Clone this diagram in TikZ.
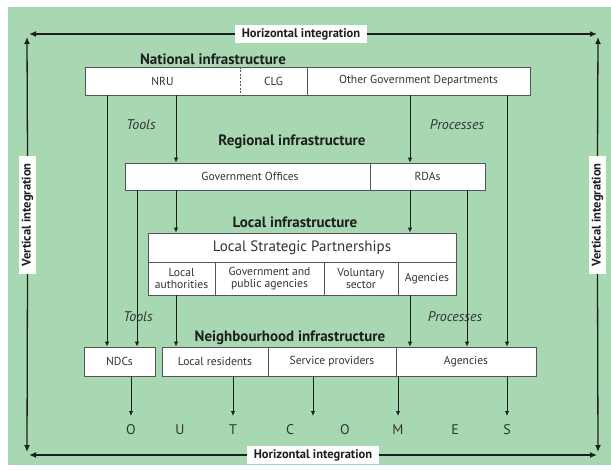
\documentclass[tikz,border=0pt]{standalone}
\usepackage{fontspec}
\setmainfont{PT Sans}
\usetikzlibrary{arrows.meta,calc}
\definecolor{bg}{HTML}{A8D8B2}
\definecolor{ink}{HTML}{1E1E1E}
\definecolor{txt}{HTML}{333333}
\definecolor{edge}{HTML}{555555}
\begin{document}
\begin{tikzpicture}[x=1pt,y=-1pt,
 arr/.style={-{Latex[length=5pt,width=4.5pt]},line width=0.9pt,draw=ink},
 farr/.style={-{Latex[length=7pt,width=6pt]},line width=1.3pt,draw=ink},
 box/.style={draw=edge,fill=white,line width=0.8pt,inner sep=0pt},
 lbl/.style={font=\fontsize{11.6}{12.5}\selectfont,text=txt,inner sep=1pt,align=center},
 head/.style={font=\bfseries\fontsize{15}{17}\selectfont,text=ink,inner sep=1pt},
 ital/.style={font=\itshape\fontsize{14}{16}\selectfont,text=txt,inner sep=1pt},
 letter/.style={font=\fontsize{14}{16}\selectfont,text=txt,inner sep=1pt},
 integ/.style={fill=white,font=\bfseries\fontsize{12.5}{13}\selectfont,inner xsep=7pt,inner ysep=3pt,text=ink},
 divl/.style={draw=edge,line width=0.8pt},
]
\useasboundingbox (0,0) rectangle (611,469);
\fill[bg] (8,7) rectangle (611,465);

% columns
\coordinate (c1) at (107,0);
\coordinate (c2) at (137,0);
\coordinate (c3) at (176,0);
\coordinate (c4) at (410,0);
\coordinate (c5) at (467,0);
\coordinate (c6) at (507,0);
\coordinate (d1) at (240,0);
\coordinate (d2) at (307,0);
\coordinate (d3) at (370,0);
\coordinate (d4) at (215,0);
\coordinate (d5) at (324,0);
\coordinate (d6) at (398,0);
\coordinate (d7) at (268,0);
\coordinate (d8) at (396,0);
\coordinate (r1) at (0,262);
% outcome arrow ends
\coordinate (e1) at (131,416);
\coordinate (e2) at (233,416);
\coordinate (e3) at (313,416);
\coordinate (e4) at (398,416);
\coordinate (e5) at (507,416);

% integration frame
\node[integ] (htop) at (301,34) {Horizontal integration};
\node[integ] (hbot) at (313,455) {Horizontal integration};
\node[integ,rotate=90] (vleft) at (27.5,215) {Vertical integration};
\node[integ,rotate=90] (vright) at (597.5,215) {Vertical integration};
\coordinate (tlh) at (29,34);
\coordinate (trh) at (597,34);
\coordinate (blh) at (29,455);
\coordinate (brh) at (597,455);
\coordinate (tlv) at (27,37);
\coordinate (blv) at (27,452);
\coordinate (trv) at (598,37);
\coordinate (brv) at (598,452);
\draw[farr] (htop.west) -- (tlh);
\draw[farr] (htop.east) -- (trh);
\draw[farr] (hbot.west) -- (blh);
\draw[farr] (hbot.east) -- (brh);
\draw[farr] (vleft.east) -- (tlv);
\draw[farr] (vleft.west) -- (blv);
\draw[farr] (vright.east) -- (trv);
\draw[farr] (vright.west) -- (brv);

% National
\node[head] (nath) at (213,59) {National infrastructure};
\node[box,minimum width=445pt,minimum height=28pt] (nat) at (307.5,81) {};
\draw[divl,dashed,dash pattern=on 2pt off 1.5pt] (nat.north -| d1) -- (nat.south -| d1);
\draw[divl] (nat.north -| d2) -- (nat.south -| d2);
\node[lbl] (nru) at (162.5,81) {NRU};
\node[lbl] (clg) at (273.5,81) {CLG};
\node[lbl] (ogd) at (418.5,81) {Other Government Departments};

\node[ital] (tools1) at (141,125) {Tools};
\node[ital] (proc1) at (457,125) {Processes};

% Regional
\node[head] (regh) at (292,142) {Regional infrastructure};
\node[box,minimum width=360pt,minimum height=27pt] (reg) at (305,176.5) {};
\draw[divl] (reg.north -| d3) -- (reg.south -| d3);
\node[lbl] (go) at (250,176.5) {Government Offices};
\node[lbl] (rda) at (427.5,176.5) {RDAs};

% Local
\node[head] (loch) at (295,222) {Local infrastructure};
\node[box,minimum width=308pt,minimum height=62pt] (lsp) at (302,264) {};
\draw[divl] (lsp.west |- r1) -- (lsp.east |- r1);
\draw[divl] (r1 -| d4) -- (lsp.south -| d4);
\draw[divl] (r1 -| d5) -- (lsp.south -| d5);
\draw[divl] (r1 -| d6) -- (lsp.south -| d6);
\node[lbl,font=\fontsize{15}{17}\selectfont] (lspt) at (302,247.5) {Local Strategic Partnerships};
\node[lbl] (la) at (181.5,278.5) {Local\\authorities};
\node[lbl] (gpa) at (269.5,278.5) {Government and\\public agencies};
\node[lbl] (vs) at (361,278.5) {Voluntary\\sector};
\node[lbl] (lag) at (427,278.5) {Agencies};

\node[ital] (tools2) at (138,317) {Tools};
\node[ital] (proc2) at (455,317) {Processes};

% Neighbourhood
\node[head] (neih) at (290,338) {Neighbourhood infrastructure};
\node[box,minimum width=71pt,minimum height=29pt] (ndc) at (119.5,361.5) {};
\node[lbl] (ndct) at (119.5,361.5) {NDCs};
\node[box,minimum width=374pt,minimum height=29pt] (nei) at (349,361.5) {};
\draw[divl] (nei.north -| d7) -- (nei.south -| d7);
\draw[divl] (nei.north -| d8) -- (nei.south -| d8);
\node[lbl] (lr) at (215,361.5) {Local residents};
\node[lbl] (sp) at (332,361.5) {Service providers};
\node[lbl] (nag) at (466,361.5) {Agencies};

% arrows
\draw[arr] (nat.south -| c1) -- (ndc.north -| c1);
\draw[arr] (nat.south -| c3) -- (reg.north -| c3);
\draw[arr] (nat.south -| c4) -- (reg.north -| c4);
\draw[arr] (nat.south -| c6) -- (nei.north -| c6);
\draw[arr] (reg.south -| c2) -- (ndc.north -| c2);
\draw[arr] (reg.south -| c3) -- (lsp.north -| c3);
\draw[arr] (reg.south -| c4) -- (lsp.north -| c4);
\draw[arr] (reg.south -| c5) -- (nei.north -| c5);
\draw[arr] (lsp.south -| c3) -- (nei.north -| c3);
\draw[arr] (lsp.south -| c4) -- (nei.north -| c4);

% outcomes
\node[letter] (L1) at (131,430) {O};
\node[letter] (L2) at (180,430) {U};
\node[letter] (L3) at (233,430) {T};
\node[letter] (L4) at (290,430) {C};
\node[letter] (L5) at (345,430) {O};
\node[letter] (L6) at (398,430) {M};
\node[letter] (L7) at (455,430) {E};
\node[letter] (L8) at (507,430) {S};
\draw[arr] (ndc.south -| e1) -- (e1);
\draw[arr] (nei.south -| e2) -- (e2);
\draw[arr] (nei.south -| e3) -- (e3);
\draw[arr] (nei.south -| e4) -- (e4);
\draw[arr] (nei.south -| e5) -- (e5);
\end{tikzpicture}
\end{document}
